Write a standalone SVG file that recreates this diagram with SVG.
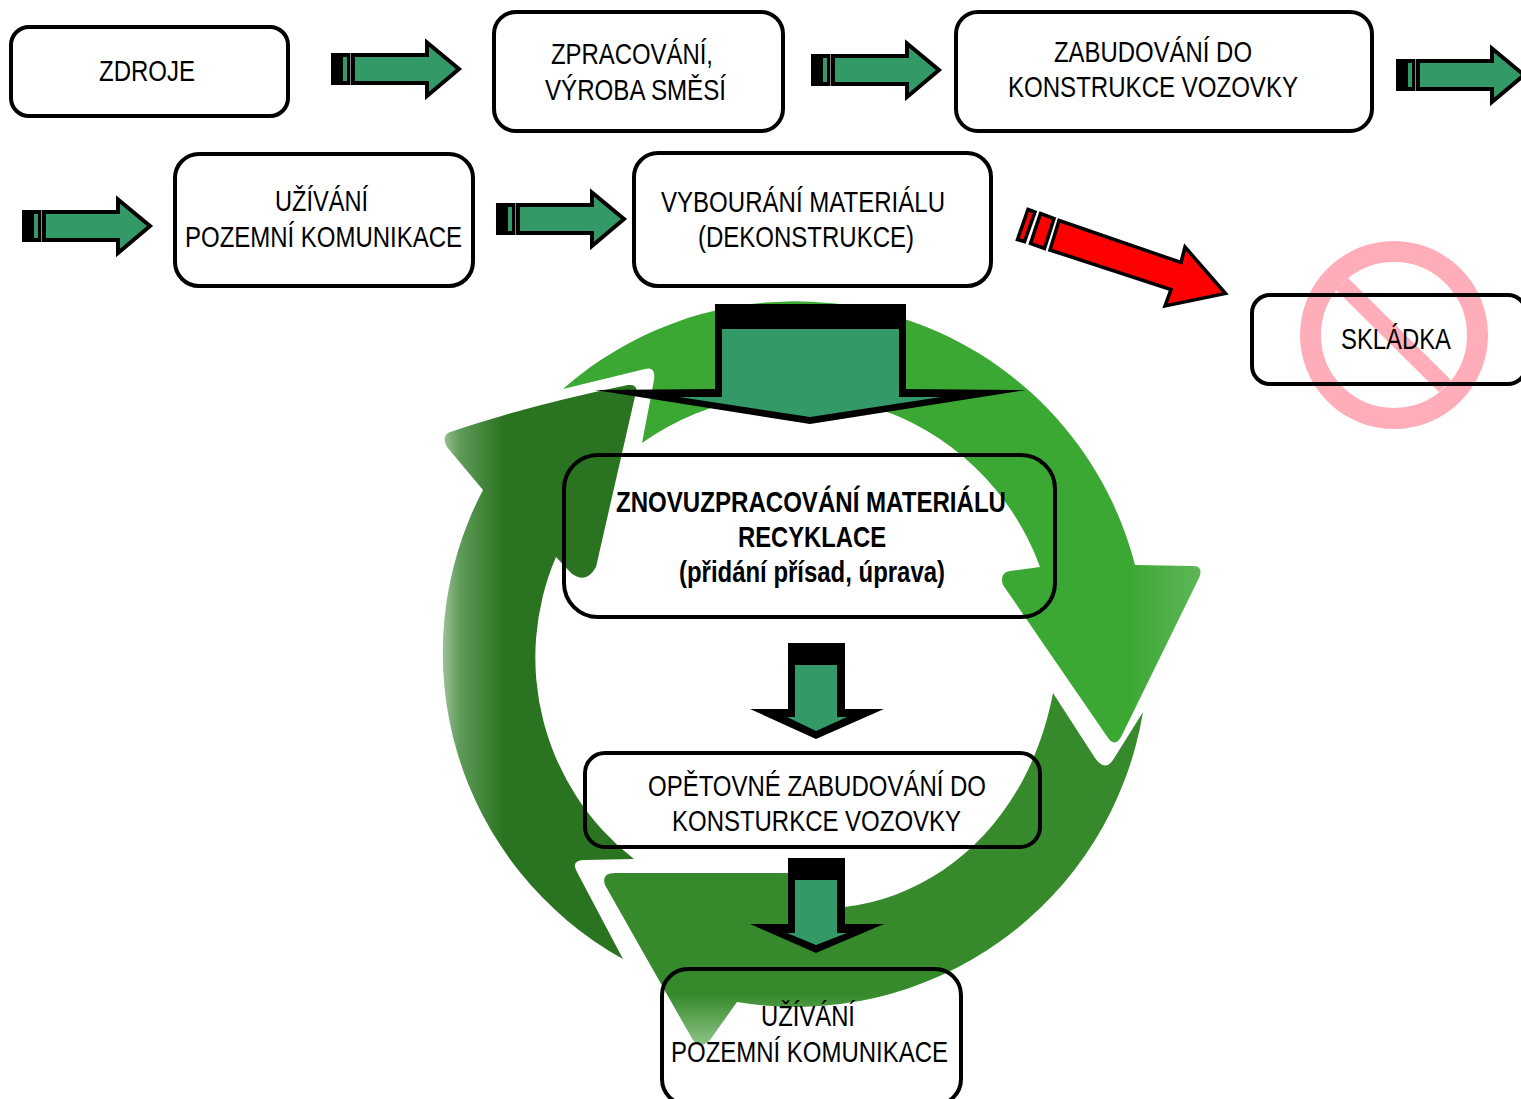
<svg xmlns="http://www.w3.org/2000/svg" xmlns:xlink="http://www.w3.org/1999/xlink" width="1521" height="1099" viewBox="0 0 1521 1099">
<style>
.box{fill:none;stroke:#000;stroke-width:4}
text{font-family:"Liberation Sans",Arial,sans-serif;font-size:30px;fill:#000}
.b{font-weight:bold}
.k{fill:#000}
.g{fill:#339966}
</style>
<defs>
<linearGradient id="gDark" gradientUnits="userSpaceOnUse" x1="440" y1="0" x2="520" y2="0"><stop offset="0" stop-color="#a4c9a0"/><stop offset="0.25" stop-color="#5f9a59"/><stop offset="0.8" stop-color="#2a7320"/></linearGradient>
<linearGradient id="gLight" gradientUnits="userSpaceOnUse" x1="1130" y1="0" x2="1205" y2="0"><stop offset="0" stop-color="#3ca834"/><stop offset="1" stop-color="#60b85a"/></linearGradient>
<linearGradient id="gMid" gradientUnits="userSpaceOnUse" x1="0" y1="995" x2="0" y2="1048"><stop offset="0" stop-color="#368a2c"/><stop offset="1" stop-color="#93c78e"/></linearGradient>
<g id="hArrow">
<path class="k" d="M0,15H22V47H0Z"/>
<path class="g" d="M12,19H16V43H12Z"/>
<path d="M22,17H96V4.5L128,31L96,58V45H22Z" fill="#339966" stroke="#000" stroke-width="4"/>
<path d="M19.5,15V47" stroke="#888" stroke-width="1"/>
</g>
</defs>
<g id="recycle-ring">
<path fill="url(#gLight)" d="M563,389A351,351 0 0 1 1135,565L1193,566Q1204,566 1199,578L1122,735Q1115,750 1106,735L1003,585Q999,573 1010,571L1040,567A262,262 0 0 0 642,443L654,380Q656,366 645,369Z"/>
<path fill="url(#gMid)" d="M1053,693L1095,758Q1105,772 1113,760L1143,712A352,352 0 0 1 737,1002L710,1040Q698,1052 690,1035L605,885Q601,873 615,873L788,873L845,907C945,895 1030,815 1053,693Z"/>
<path fill="url(#gDark)" d="M623,959L577,872Q570,860 585,860L634,859A255,255 0 0 1 556,557L571,573Q586,585 596,567L636,392Q638,384 628,385Q530,405 450,432Q441,436 447,447L483,490A350,350 0 0 0 623,959Z"/>
</g>
<g id="forbidden">
<circle cx="1394" cy="335" r="83.5" fill="none" stroke="#ffadb9" stroke-width="21"/>
<path d="M1342,284L1445,386" stroke="#ffadb9" stroke-width="17"/>
</g>
<g id="connectors">
<use xlink:href="#hArrow" href="#hArrow" x="331" y="38"/>
<use xlink:href="#hArrow" href="#hArrow" x="811" y="39"/>
<use xlink:href="#hArrow" href="#hArrow" x="1396" y="44"/>
<use xlink:href="#hArrow" href="#hArrow" x="22" y="195"/>
<use xlink:href="#hArrow" href="#hArrow" x="496" y="188"/>
<g fill="#f00" stroke="#000" stroke-width="3.5">
<path d="M1059,220.5L1181,262.5L1185,247L1225.5,293.5L1165,306L1171,289.5L1050,250Z"/>
<path d="M1040.5,213.5L1054,218.5L1044.5,248.5L1030.5,243.5Z"/>
<path d="M1028,209.5L1035,212L1024.5,241.5L1017.5,239.5Z"/>
</g>
<path class="k" d="M715,304H906V389L1026,390L810,424L595,390L715,389Z"/>
<path class="g" d="M722,329H899V397H941L810,417L679,397H722Z"/>
<path class="k" d="M788,643H845V709H884L816,739L750,709H788Z"/>
<path class="g" d="M795,665H837V717H847L816,731L787,717H795Z"/>
<path class="k" d="M788,858H845V924H884L816,953L750,924H788Z"/>
<path class="g" d="M795,880H837V933H847L816,945L787,933H795Z"/>
</g>
<g id="n-zdroje"><rect class="box" x="11" y="27" width="277" height="89" rx="18"/><text x="99" y="81" textLength="96" lengthAdjust="spacingAndGlyphs">ZDROJE</text></g>
<g id="n-zpracovani"><rect class="box" x="494" y="12" width="289" height="119" rx="22"/><text x="551" y="64" textLength="162" lengthAdjust="spacingAndGlyphs">ZPRACOVÁNÍ,</text><text x="545" y="100" textLength="181" lengthAdjust="spacingAndGlyphs">VÝROBA SMĚSÍ</text></g>
<g id="n-zabudovani"><rect class="box" x="956" y="12" width="416" height="119" rx="22"/><text x="1054" y="62" textLength="198" lengthAdjust="spacingAndGlyphs">ZABUDOVÁNÍ DO</text><text x="1008" y="97" textLength="290" lengthAdjust="spacingAndGlyphs">KONSTRUKCE VOZOVKY</text></g>
<g id="n-uzivani1"><rect class="box" x="175" y="154" width="298" height="132" rx="24"/><text x="275" y="211" textLength="93" lengthAdjust="spacingAndGlyphs">UŽÍVÁNÍ</text><text x="185" y="247" textLength="277" lengthAdjust="spacingAndGlyphs">POZEMNÍ KOMUNIKACE</text></g>
<g id="n-vybourani"><rect class="box" x="634" y="153" width="357" height="133" rx="24"/><text x="661" y="212" textLength="284" lengthAdjust="spacingAndGlyphs">VYBOURÁNÍ MATERIÁLU</text><text x="698" y="247" textLength="216" lengthAdjust="spacingAndGlyphs">(DEKONSTRUKCE)</text></g>
<g id="n-skladka"><rect class="box" x="1252" y="295" width="274" height="89" rx="18"/><text x="1341" y="349" textLength="110" lengthAdjust="spacingAndGlyphs">SKLÁDKA</text></g>
<g id="n-recyklace"><rect class="box" x="564" y="455" width="491" height="162" rx="34"/><text class="b" x="616" y="512" textLength="390" lengthAdjust="spacingAndGlyphs">ZNOVUZPRACOVÁNÍ MATERIÁLU</text><text class="b" x="738" y="547" textLength="148" lengthAdjust="spacingAndGlyphs">RECYKLACE</text><text class="b" x="679" y="582" textLength="266" lengthAdjust="spacingAndGlyphs">(přidání přísad, úprava)</text></g>
<g id="n-opetovne"><rect class="box" x="585" y="753" width="455" height="94" rx="20"/><text x="648" y="796" textLength="338" lengthAdjust="spacingAndGlyphs">OPĚTOVNÉ ZABUDOVÁNÍ DO</text><text x="672" y="831" textLength="289" lengthAdjust="spacingAndGlyphs">KONSTURKCE VOZOVKY</text></g>
<g id="n-uzivani2"><rect class="box" x="662" y="969" width="299" height="136" rx="26"/><text x="761" y="1026" textLength="94" lengthAdjust="spacingAndGlyphs">UŽÍVÁNÍ</text><text x="671" y="1062" textLength="277" lengthAdjust="spacingAndGlyphs">POZEMNÍ KOMUNIKACE</text></g>
</svg>
